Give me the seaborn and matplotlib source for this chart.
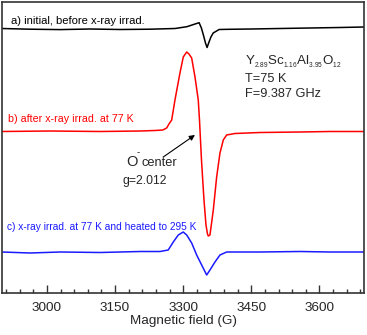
import numpy as np
import pandas as pd
import matplotlib
matplotlib.use('Agg')
import matplotlib.pyplot as plt
import seaborn as sns

# EPR spectra: field (G) and signal (a.u., relative to each baseline)
field_a = [2900, 2963, 3029, 3095, 3161, 3227, 3282, 3308, 3326, 3335, 3340, 3345,
           3349, 3352.5, 3356, 3361, 3366, 3379, 3400, 3450, 3513, 3579, 3645, 3698]
signal_a = [0.5, -0.2, -0.6, 0, -0.5, -0.2, 0.5, 2.3, 5, 6.3, 1, -7,
            -14, -18.5, -14, -8, -4, -0.5, -0.3, 0, 0.5, 1, 1.5, 2]

field_b = [2900, 3007, 3117, 3205, 3238, 3255, 3263.5, 3268.6, 3274.6, 3281.8, 3292.8,
           3300.1, 3307.6, 3312.6, 3318.6, 3325.9, 3333.1, 3335.8, 3340.2, 3345.7,
           3350.1, 3353.4, 3355.2, 3358.9, 3366.2, 3373.6, 3380.9, 3388.2, 3395.6,
           3413.9, 3469, 3557, 3623, 3698]
signal_b = [0.5, 1, 0.5, 1, 1.5, 2, 4, 8, 12, 32, 59,
            75, 80, 78, 74, 55, 32, 12, -28, -68,
            -93, -102, -104, -103, -78, -45, -21, -8, -3,
            -1.5, -0.5, 0, 0.5, 0.5]

field_c = [2900, 2963, 3029, 3117, 3205, 3249, 3267, 3278.1, 3289.1, 3300.1, 3307.6,
           3318.6, 3329.6, 3340.6, 3351.6, 3358.9, 3369.9, 3380.9, 3395.6, 3469,
           3557, 3623, 3698]
signal_c = [0, -1, 0, -0.5, 0.5, 0.5, 2, 10, 17, 20, 17,
            9, -3, -13, -23, -18, -10, -3, 0, 0,
            0.5, 0, 0]

offsets = {'a': 306, 'b': 203, 'c': 83}
colors = {'a': 'black', 'b': '#ff0000', 'c': '#1a1aff'}

labels = {'a': 'a) initial, before x-ray irrad.',
          'b': 'b) after x-ray irrad. at 77 K',
          'c': 'c) x-ray irrad. at 77 K and heated to 295 K'}

frames = []
for key, f, s in [('a', field_a, signal_a), ('b', field_b, signal_b), ('c', field_c, signal_c)]:
    d = pd.DataFrame({'field': f, 'signal': np.array(s) + offsets[key]})
    d['trace'] = key
    frames.append(d)
df = pd.concat(frames, ignore_index=True)

sns.set_theme(style='ticks')
plt.rcParams['font.family'] = ['Liberation Sans', 'DejaVu Sans']
plt.rcParams['mathtext.fontset'] = 'custom'
plt.rcParams['mathtext.rm'] = 'Liberation Sans'
plt.rcParams['mathtext.it'] = 'Liberation Sans:italic'
plt.rcParams['mathtext.default'] = 'regular'

fig = plt.figure(figsize=(3.67, 3.35), dpi=100)
ax = fig.add_axes([2 / 367, 42 / 335, 362 / 367, 291 / 335])

sns.lineplot(data=df, x='field', y='signal', hue='trace', palette=colors,
             linewidth=1.1, legend=False, ax=ax, sort=False, estimator=None)

ax.set_xlim(2901, 3698)
ax.set_ylim(42, 333)
ax.set_xticks([3000, 3150, 3300, 3450, 3600])
ax.set_xticks(np.arange(2910, 3700, 30), minor=True)
ax.set_yticks([])
ax.tick_params(axis='x', which='major', direction='in', length=6, width=1,
               labelsize=9.7, pad=6.5, color='#333333')
ax.tick_params(axis='x', which='minor', direction='in', length=3, width=1,
               color='#333333')
ax.set_xlabel('Magnetic field (G)', fontsize=9.7, labelpad=0.5)
ax.set_ylabel('')
for sp in ax.spines.values():
    sp.set_visible(True)
    sp.set_color('#333333')
    sp.set_linewidth(1.2)

ax.text(0.025, 0.936, labels['a'], color=colors['a'], fontsize=8.1,
        transform=ax.transAxes, va='center', ha='left')
ax.text(0.017, 0.598, labels['b'], color=colors['b'], fontsize=7.7,
        transform=ax.transAxes, va='center', ha='left')
ax.text(0.013, 0.227, labels['c'], color=colors['c'], fontsize=7.3,
        transform=ax.transAxes, va='center', ha='left')

ax.text(0.671, 0.795, 'Y$_{_{2.89}}$Sc$_{_{1.16}}$Al$_{_{3.95}}$O$_{_{12}}$', fontsize=9.6,
        transform=ax.transAxes, va='center', ha='left')
ax.text(0.671, 0.735, 'T=75 K', fontsize=9.2, transform=ax.transAxes, va='center', ha='left')
ax.text(0.671, 0.684, 'F=9.387 GHz', fontsize=9.2, transform=ax.transAxes, va='center', ha='left')

ax.text(0.343, 0.451, 'O', fontsize=10.5, transform=ax.transAxes, va='center', ha='left')
ax.text(0.373, 0.484, '-', fontsize=7, transform=ax.transAxes, va='center', ha='left')
ax.text(0.384, 0.446, 'center', fontsize=9.3, transform=ax.transAxes, va='center', ha='left')
ax.text(0.334, 0.386, 'g=2.012', fontsize=8.8, transform=ax.transAxes, va='center', ha='left')
ax.annotate('', xy=(0.533, 0.543), xytext=(0.445, 0.467), xycoords='axes fraction',
            arrowprops=dict(arrowstyle='-|>', color='black', lw=0.8,
                            mutation_scale=8, shrinkA=0, shrinkB=0))

fig.savefig('out.png', dpi=100)
